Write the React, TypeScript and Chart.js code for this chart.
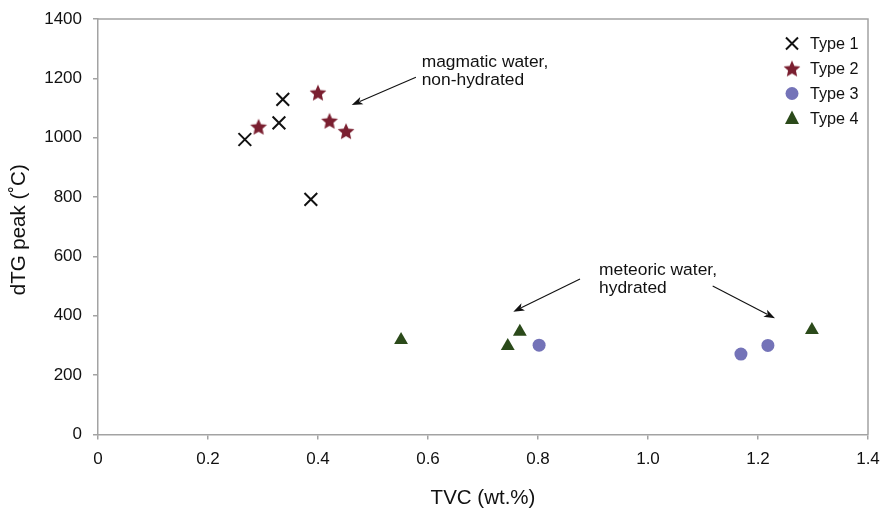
import React, { useEffect, useRef } from 'react';
import { Chart, registerables } from 'chart.js';
Chart.register(...registerables);

// ---- data ----
const type1X = [0.267, 0.329, 0.336, 0.387];
const type1Y = [994, 1050, 1129, 792];
const type2X = [0.292, 0.4, 0.421, 0.451];
const type2Y = [1037, 1152, 1057, 1022];
const type3X = [0.802, 1.169, 1.218];
const type3Y = [301, 271, 300];
const type4X = [0.551, 0.745, 0.767, 1.298];
const type4Y = [318, 298, 346, 352];
const seriesNames = ['Type 1', 'Type 2', 'Type 3', 'Type 4'];
const xTickLabels = ['0', '0.2', '0.4', '0.6', '0.8', '1.0', '1.2', '1.4'];
const yTickLabels = ['0', '200', '400', '600', '800', '1000', '1200', '1400'];
const xTitle = 'TVC (wt.%)';
const yTitle = 'dTG peak (\u02DAC)';
// annotations (data coordinates)
const noteMagmatic = ['magmatic water,', 'non-hydrated'];
const noteMagmaticAt = [0.5885, 1256, 1194.5];
const noteMeteoric = ['meteoric water,', 'hydrated'];
const noteMeteoricAt = [0.911, 554, 493.6];
const arrows = [
  [0.578, 1203.6, 0.4613, 1110.2],
  [0.8764, 523.9, 0.7551, 413.8],
  [1.1176, 500.4, 1.2309, 391.5],
];

const FONT = '"Liberation Sans", Arial, Helvetica, sans-serif';
const AXIS = '#a3a3a3';
const C1 = '#111111';
const C2 = '#7a1f30';
const C3 = '#7473b8';
const C4 = '#2b4a1a';

function starPath(ctx: CanvasRenderingContext2D, cx: number, cy: number, ro: number, ri: number) {
  ctx.beginPath();
  for (let i = 0; i < 10; i++) {
    const r = i % 2 === 0 ? ro : ri;
    const a = -Math.PI / 2 + (i * Math.PI) / 5;
    const x = cx + r * Math.cos(a);
    const y = cy + r * Math.sin(a);
    if (i === 0) ctx.moveTo(x, y);
    else ctx.lineTo(x, y);
  }
  ctx.closePath();
}

function makeStar(): HTMLCanvasElement {
  const c = document.createElement('canvas');
  c.width = 20;
  c.height = 20;
  const ctx = c.getContext('2d')!;
  ctx.fillStyle = C2;
  starPath(ctx, 10, 10.8, 8.8, 4.1);
  ctx.fill();
  return c;
}

function drawArrow(ctx: CanvasRenderingContext2D, x1: number, y1: number, x2: number, y2: number) {
  const ang = Math.atan2(y2 - y1, x2 - x1);
  const hl = 11, hw = 4;
  ctx.strokeStyle = '#111';
  ctx.fillStyle = '#111';
  ctx.lineWidth = 1.1;
  ctx.beginPath();
  ctx.moveTo(x1, y1);
  ctx.lineTo(x2 - Math.cos(ang) * hl * 0.8, y2 - Math.sin(ang) * hl * 0.8);
  ctx.stroke();
  ctx.beginPath();
  ctx.moveTo(x2, y2);
  ctx.lineTo(x2 - Math.cos(ang) * hl + Math.sin(ang) * hw, y2 - Math.sin(ang) * hl - Math.cos(ang) * hw);
  ctx.lineTo(x2 - Math.cos(ang) * hl * 0.75, y2 - Math.sin(ang) * hl * 0.75);
  ctx.lineTo(x2 - Math.cos(ang) * hl - Math.sin(ang) * hw, y2 - Math.sin(ang) * hl + Math.cos(ang) * hw);
  ctx.closePath();
  ctx.fill();
}

export default function App() {
  const ref = useRef<HTMLCanvasElement | null>(null);
  useEffect(() => {
    document.body.style.margin = '0';
    const star = makeStar();
    const toPts = (xs: number[], ys: number[]) => xs.map((x, i) => ({ x, y: ys[i] }));

    const overlay = {
      id: 'overlay',
      afterDraw(chart: any) {
        const ctx: CanvasRenderingContext2D = chart.ctx;
        const { left, right, top, bottom } = chart.chartArea;
        const xs = chart.scales.x;
        const ys = chart.scales.y;
        ctx.save();
        // top and right frame
        ctx.strokeStyle = AXIS;
        ctx.lineWidth = 1.5;
        ctx.beginPath();
        ctx.moveTo(left, top);
        ctx.lineTo(right, top);
        ctx.lineTo(right, bottom);
        ctx.stroke();
        // axis titles
        ctx.fillStyle = '#111';
        ctx.font = `20.5px ${FONT}`;
        ctx.textAlign = 'center';
        ctx.textBaseline = 'middle';
        ctx.fillText(xTitle, (left + right) / 2, 498);
        ctx.save();
        ctx.translate(19, (top + bottom) / 2 + 3);
        ctx.rotate(-Math.PI / 2);
        ctx.fillText(yTitle, 0, 0);
        ctx.restore();
        // annotations
        ctx.font = `17.4px ${FONT}`;
        ctx.textAlign = 'left';
        ctx.fillText(noteMagmatic[0], xs.getPixelForValue(noteMagmaticAt[0]), ys.getPixelForValue(noteMagmaticAt[1]));
        ctx.fillText(noteMagmatic[1], xs.getPixelForValue(noteMagmaticAt[0]), ys.getPixelForValue(noteMagmaticAt[2]));
        ctx.fillText(noteMeteoric[0], xs.getPixelForValue(noteMeteoricAt[0]), ys.getPixelForValue(noteMeteoricAt[1]));
        ctx.fillText(noteMeteoric[1], xs.getPixelForValue(noteMeteoricAt[0]), ys.getPixelForValue(noteMeteoricAt[2]));
        arrows.forEach((a) =>
          drawArrow(ctx, xs.getPixelForValue(a[0]), ys.getPixelForValue(a[1]), xs.getPixelForValue(a[2]), ys.getPixelForValue(a[3]))
        );
        // legend
        const lx = 792, tx = 810, ly0 = 43.5, dy = 25;
        seriesNames.forEach((name, i) => {
          const y = ly0 + i * dy;
          if (i === 0) {
            ctx.strokeStyle = C1;
            ctx.lineWidth = 2;
            ctx.beginPath();
            ctx.moveTo(lx - 6, y - 6);
            ctx.lineTo(lx + 6, y + 6);
            ctx.moveTo(lx + 6, y - 6);
            ctx.lineTo(lx - 6, y + 6);
            ctx.stroke();
          } else if (i === 1) {
            ctx.drawImage(star, lx - 10, y - 10);
          } else if (i === 2) {
            ctx.fillStyle = C3;
            ctx.beginPath();
            ctx.arc(lx, y, 6.5, 0, Math.PI * 2);
            ctx.fill();
          } else {
            ctx.fillStyle = C4;
            ctx.beginPath();
            ctx.moveTo(lx, y - 8);
            ctx.lineTo(lx + 7, y + 5.5);
            ctx.lineTo(lx - 7, y + 5.5);
            ctx.closePath();
            ctx.fill();
          }
          ctx.fillStyle = '#111';
          ctx.font = `16.2px ${FONT}`;
          ctx.textAlign = 'left';
          ctx.textBaseline = 'middle';
          ctx.fillText(name, tx, y + 1);
        });
        ctx.restore();
      },
    };

    const chart = new Chart(ref.current!, {
      type: 'scatter',
      data: {
        datasets: [
          {
            label: seriesNames[0],
            data: toPts(type1X, type1Y),
            pointStyle: 'crossRot',
            radius: 9,
            borderColor: C1,
            backgroundColor: C1,
            borderWidth: 2,
          },
          {
            label: seriesNames[1],
            data: toPts(type2X, type2Y),
            pointStyle: star as any,
            radius: 9,
            borderColor: C2,
            backgroundColor: C2,
          },
          {
            label: seriesNames[2],
            data: toPts(type3X, type3Y),
            pointStyle: 'circle',
            radius: 6.5,
            borderWidth: 0,
            borderColor: C3,
            backgroundColor: C3,
          },
          {
            label: seriesNames[3],
            data: toPts(type4X, type4Y),
            pointStyle: 'triangle',
            radius: 8,
            borderWidth: 0,
            borderColor: C4,
            backgroundColor: C4,
          },
        ],
      },
      options: {
        animation: false,
        responsive: false,
        devicePixelRatio: 1,
        layout: { padding: { top: 19, right: 15, left: 0, bottom: 0 } },
        plugins: { legend: { display: false }, tooltip: { enabled: false } },
        scales: {
          x: {
            type: 'linear',
            min: 0,
            max: 1.4,
            ticks: {
              stepSize: 0.2,
              color: '#111',
              font: { family: FONT, size: 17 },
              padding: 10,
              maxRotation: 0,
              callback: (_v: any, i: number) => xTickLabels[i],
            },
            grid: { drawOnChartArea: false, color: AXIS, tickLength: 5, lineWidth: 1.5 },
            border: { color: AXIS, width: 1.5 },
            afterFit: (s: any) => {
              s.height = 73.5;
              s.paddingLeft = 0;
              s.paddingRight = 0;
            },
          },
          y: {
            type: 'linear',
            min: 0,
            max: 1400,
            ticks: {
              stepSize: 200,
              color: '#111',
              font: { family: FONT, size: 17 },
              padding: 11,
              callback: (_v: any, i: number) => yTickLabels[i],
            },
            grid: { drawOnChartArea: false, color: AXIS, tickLength: 5, lineWidth: 1.5 },
            border: { color: AXIS, width: 1.5 },
            afterFit: (s: any) => {
              s.width = 98;
              s.paddingTop = 0;
              s.paddingBottom = 0;
            },
          },
        },
      },
      plugins: [overlay],
    });
    return () => chart.destroy();
  }, []);
  return (
    <div style={{ width: 883, height: 508 }}>
      <canvas ref={ref} width={883} height={508} style={{ display: 'block' }} />
    </div>
  );
}
